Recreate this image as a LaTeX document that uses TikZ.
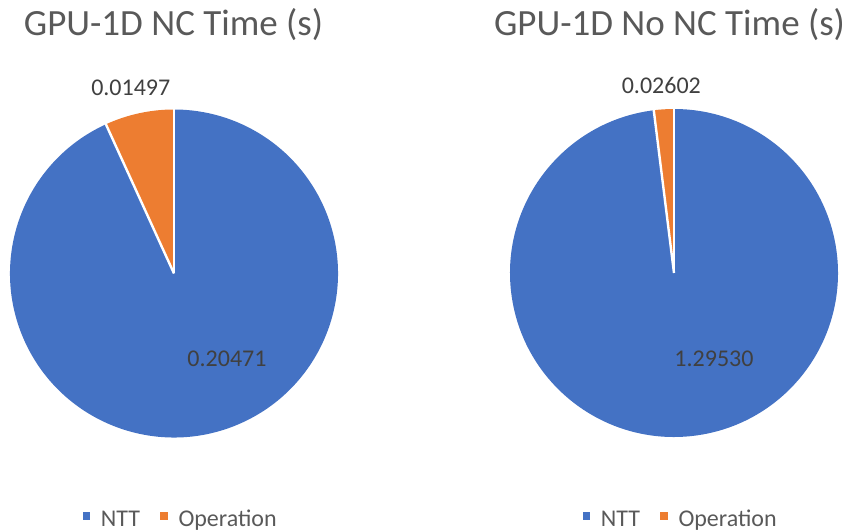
\documentclass[tikz,border=0pt]{standalone}
\usepackage{fontspec}
\setmainfont{Carlito}
\definecolor{ntt}{HTML}{4472C4}
\definecolor{op}{HTML}{ED7D31}
\definecolor{lbl}{HTML}{404040}
\definecolor{ttl}{HTML}{595959}
\tikzset{
  title/.style={text=ttl, font=\fontsize{37}{42}\selectfont, anchor=base, inner sep=0pt},
  datalbl/.style={text=lbl, font=\fontsize{24}{28}\selectfont, anchor=base, inner sep=0pt},
  legtxt/.style={text=ttl, font=\fontsize{24}{28}\selectfont, anchor=base west, inner sep=0pt},
  legsq/.style={minimum size=7.5pt, inner sep=0pt, draw=none},
  sep/.style={white, line width=2.4pt}
}
\begin{document}
\begin{tikzpicture}[x=1pt,y=1pt]
\useasboundingbox (0,0) rectangle (852,531);
% left pie
\coordinate (cl) at (174,257.5);
\fill[ntt] (cl) -- ++(114.53:164) arc[start angle=114.53, end angle=450, radius=164] -- cycle;
\fill[op] (cl) -- ++(90:164) arc[start angle=90, end angle=114.53, radius=164] -- cycle;
\draw[sep] (cl) -- ++(90:164.5);
\draw[sep] (cl) -- ++(114.53:164.5);
% right pie
\coordinate (cr) at (674,258);
\fill[ntt] (cr) -- ++(97.09:164) arc[start angle=97.09, end angle=450, radius=164] -- cycle;
\fill[op] (cr) -- ++(90:164) arc[start angle=90, end angle=97.09, radius=164] -- cycle;
\draw[sep] (cr) -- ++(90:164.5);
\draw[sep] (cr) -- ++(97.09:164.5);
% titles
\node[title] (t1) at (173.5,495) {GPU-1D NC Time (s)};
\node[title] (t2) at (669.5,495) {GPU-1D No NC Time (s)};
% data labels
\node[datalbl] (l1) at (130.8,435) {0.01497};
\node[datalbl] (l2) at (227,164.3) {0.20471};
\node[datalbl] (l3) at (661.3,437) {0.02602};
\node[datalbl] (l4) at (714,164.3) {1.29530};
% legends
\foreach \dx/\n in {0/a,500/b}{
  \node[legsq, fill=ntt] (sq1\n) at (86.5+\dx,15) {};
  \node[legtxt] (nt\n) at (100.7+\dx,4.3) {NTT};
  \node[legsq, fill=op] (sq2\n) at (164.2+\dx,15) {};
  \node[legtxt] (op\n) at (178.3+\dx,4.3) {Operation};
}
\end{tikzpicture}
\end{document}
